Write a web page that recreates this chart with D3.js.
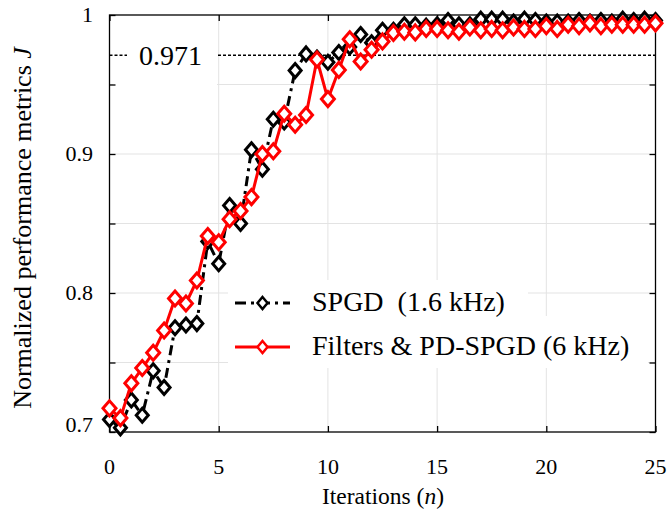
<!DOCTYPE html>
<html>
<head>
<meta charset="utf-8">
<script src="https://cdn.jsdelivr.net/npm/d3@7"></script>
</head>
<body style="margin:0;background:#fff">
<script>
let w = 671;
let h = 515;

let iterations = [0, 0.5, 1, 1.5, 2, 2.5, 3, 3.5, 4, 4.5,
                  5, 5.5, 6, 6.5, 7, 7.5, 8, 8.5, 9, 9.5,
                  10, 10.5, 11, 11.5, 12, 12.5, 13, 13.5, 14, 14.5,
                  15, 15.5, 16, 16.5, 17, 17.5, 18, 18.5, 19, 19.5,
                  20, 20.5, 21, 21.5, 22, 22.5, 23, 23.5, 24, 24.5, 25];

let spgd = [0.709, 0.703, 0.723, 0.712, 0.744, 0.732, 0.775, 0.777, 0.778, 0.837,
            0.821, 0.863, 0.850, 0.903, 0.889, 0.925, 0.923, 0.960, 0.972, 0.969,
            0.966, 0.973, 0.977, 0.986, 0.980, 0.989, 0.989, 0.993, 0.993, 0.992,
            0.993, 0.996, 0.993, 0.993, 0.997, 0.997, 0.997, 0.995, 0.997, 0.996,
            0.995, 0.995, 0.995, 0.996, 0.995, 0.996, 0.995, 0.997, 0.996, 0.997, 0.996];

let pdspgd = [0.717, 0.710, 0.735, 0.746, 0.757, 0.773, 0.796, 0.7925, 0.809, 0.841,
              0.8365, 0.853, 0.859, 0.869, 0.900, 0.902, 0.929, 0.921, 0.928, 0.968,
              0.9395, 0.9605, 0.9826, 0.9665, 0.975, 0.981, 0.987, 0.988, 0.9875, 0.990,
              0.990, 0.989, 0.988, 0.991, 0.989, 0.990, 0.989, 0.991, 0.990, 0.990,
              0.992, 0.990, 0.993, 0.992, 0.994, 0.992, 0.993, 0.993, 0.993, 0.993, 0.994];

let xTicks = [0, 5, 10, 15, 20, 25];
let yTicks = [0.7, 0.8, 0.9, 1];
let yMinor = [0.7, 0.75, 0.8, 0.85, 0.9, 0.95, 1];
let threshold = 0.971;
let legendLabels = ["SPGD\u00a0\u00a0(1.6 kHz)", "Filters & PD-SPGD (6 kHz)"];

let pLeft = 109.5, pRight = 655.5, pTop = 15, pBottom = 432;

let xScale = d3.scaleLinear().domain([0, 25]).range([pLeft, pRight]);
let yScale = d3.scaleLinear().domain([0.7, 1]).range([pBottom, pTop]);

// Times-like font set straight on each text node
function serif(sel, size) {
    return sel.style("font-family", "'Liberation Serif'")
              .style("font-size", size + "px")
              .attr("fill", "#000");
}

let svg = d3.select("body")
            .append("svg")
            .attr("width", w)
            .attr("height", h);

// grid
svg.selectAll("line.vgrid")
   .data(xTicks.slice(1, -1))
   .enter()
   .append("line")
   .attr("x1", d => xScale(d)).attr("x2", d => xScale(d))
   .attr("y1", pTop).attr("y2", pBottom)
   .attr("stroke", "#e3e3e3").attr("stroke-width", 1);
svg.selectAll("line.hgrid")
   .data(yMinor.slice(1, -1))
   .enter()
   .append("line")
   .attr("x1", pLeft).attr("x2", pRight)
   .attr("y1", d => yScale(d)).attr("y2", d => yScale(d))
   .attr("stroke", "#e3e3e3").attr("stroke-width", 1);

// white box behind the threshold label
svg.append("rect")
   .attr("x", 113).attr("y", 30).attr("width", 104).attr("height", 57)
   .attr("fill", "#fff");

// threshold line
svg.append("line")
   .attr("x1", pLeft).attr("x2", 127)
   .attr("y1", yScale(threshold)).attr("y2", yScale(threshold))
   .attr("stroke", "#000").attr("stroke-width", 1.5)
   .attr("stroke-dasharray", "3,2");
svg.append("line")
   .attr("x1", 218).attr("x2", pRight)
   .attr("y1", yScale(threshold)).attr("y2", yScale(threshold))
   .attr("stroke", "#000").attr("stroke-width", 1.5)
   .attr("stroke-dasharray", "3,2");
serif(svg.append("text"), 28)
   .attr("x", 139).attr("y", yScale(threshold) + 10)
   .text(threshold.toFixed(3));

// axes frame
let gx = svg.append("g").attr("transform", "translate(0," + pBottom + ")")
            .call(d3.axisBottom(xScale).tickValues(xTicks).tickSize(-6).tickFormat(""));
let gxt = svg.append("g").attr("transform", "translate(0," + pTop + ")")
             .call(d3.axisTop(xScale).tickValues(xTicks).tickSize(-6).tickFormat(""));
let gy = svg.append("g").attr("transform", "translate(" + pLeft + ",0)")
            .call(d3.axisLeft(yScale).tickValues(yMinor).tickSize(-6).tickFormat(""));
let gyr = svg.append("g").attr("transform", "translate(" + pRight + ",0)")
             .call(d3.axisRight(yScale).tickValues(yMinor).tickSize(-6).tickFormat(""));
[gx, gxt, gy, gyr].forEach(g => {
    g.selectAll("path, line").attr("stroke", "#000").attr("stroke-width", 1.3);
    g.select(".domain").remove();
    g.selectAll("text").remove();
});
svg.append("rect")
   .attr("x", pLeft).attr("y", pTop)
   .attr("width", pRight - pLeft).attr("height", pBottom - pTop)
   .attr("fill", "none").attr("stroke", "#000").attr("stroke-width", 1.3);

// tick labels
serif(svg.selectAll("text.xt")
   .data(xTicks)
   .enter()
   .append("text"), 22)
   .attr("x", d => xScale(d)).attr("y", 474)
   .attr("text-anchor", "middle")
   .text(d => d);
serif(svg.selectAll("text.yt")
   .data(yTicks)
   .enter()
   .append("text"), 22)
   .attr("x", 93).attr("y", d => Math.min(yScale(d), 425) + 7)
   .attr("text-anchor", "end")
   .text(d => d);

// axis titles
let xl = serif(svg.append("text"), 23.5)
   .attr("x", 383).attr("y", 504)
   .attr("text-anchor", "middle");
xl.append("tspan").text("Iterations (");
xl.append("tspan").style("font-style", "italic").text("n");
xl.append("tspan").text(")");

let yl = serif(svg.append("text"), 26)
   .attr("transform", "translate(31,228) rotate(-90)")
   .attr("text-anchor", "middle");
yl.append("tspan").text("Normalized performance metrics ");
yl.append("tspan").style("font-style", "italic").text("J");

// series
function diamond(hw, hh) {
    return "M0," + (-hh) + "L" + hw + ",0L0," + hh + "L" + (-hw) + ",0Z";
}

let series = [
    {values: spgd, color: "#000", dash: "10,5,3,5", hw: 6, hh: 7},
    {values: pdspgd, color: "#ff0000", dash: null, hw: 6.5, hh: 7.5}
];

series.forEach(s => {
    let line = d3.line()
                 .x((d, i) => xScale(iterations[i]))
                 .y(d => yScale(d));
    svg.append("path")
       .datum(s.values)
       .attr("d", line)
       .attr("fill", "none")
       .attr("stroke", s.color)
       .attr("stroke-width", 3)
       .attr("stroke-dasharray", s.dash);
    svg.append("g")
       .selectAll("path")
       .data(s.values)
       .enter()
       .append("path")
       .attr("d", diamond(s.hw, s.hh))
       .attr("transform", (d, i) => "translate(" + xScale(iterations[i]) + "," + yScale(d) + ")")
       .attr("fill", "#fff")
       .attr("stroke", s.color)
       .attr("stroke-width", 3);
});

// legend
svg.append("rect").attr("x", 228).attr("y", 280).attr("width", 300).attr("height", 36).attr("fill", "#fff");
svg.append("rect").attr("x", 228).attr("y", 316).attr("width", 420).attr("height", 52).attr("fill", "#fff");

let legendY = [303, 347];
series.forEach((s, i) => {
    svg.append("line")
       .attr("x1", 235).attr("x2", 290)
       .attr("y1", legendY[i]).attr("y2", legendY[i])
       .attr("stroke", s.color).attr("stroke-width", 3)
       .attr("stroke-dasharray", s.dash ? "11,5,3,5" : null);
    svg.append("path")
       .attr("d", diamond(5, 6))
       .attr("transform", "translate(262.5," + legendY[i] + ")")
       .attr("fill", "#fff")
       .attr("stroke", s.color)
       .attr("stroke-width", 2.5);
    serif(svg.append("text"), 28)
       .attr("x", 312).attr("y", legendY[i] + 8)
       .text(legendLabels[i]);
});
</script>
</body>
</html>
